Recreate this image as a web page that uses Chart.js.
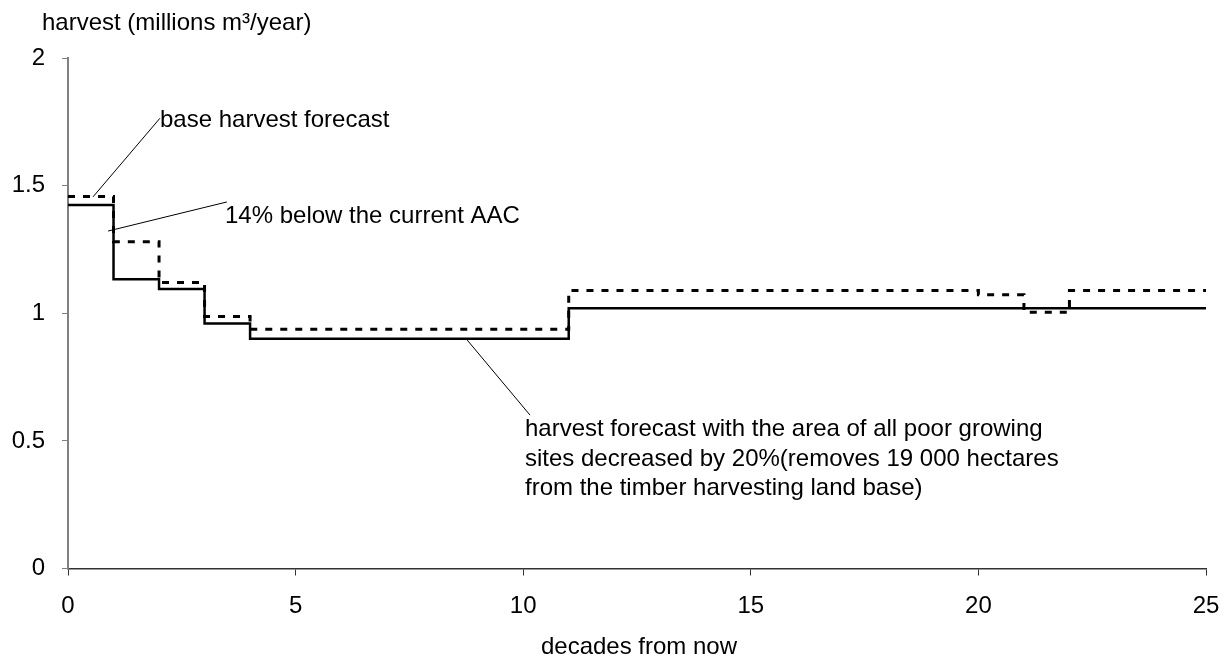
<!DOCTYPE html>
<html>
<head>
<meta charset="utf-8">
<script src="https://cdn.jsdelivr.net/npm/chart.js@4/dist/chart.umd.min.js"></script>
<style>
html,body{margin:0;padding:0;background:#fff;}
#wrap{width:1225px;height:658px;position:relative;}
</style>
</head>
<body>
<div id="wrap"><canvas id="c" width="1225" height="658"></canvas></div>
<script>
// decades 0..24, value holds over [d, d+1]
const decades = [0,1,2,3,4,5,6,7,8,9,10,11,12,13,14,15,16,17,18,19,20,21,22,23,24];
const reducedSites = [1.424,1.133,1.095,0.960,0.900,0.900,0.900,0.900,0.900,0.900,0.900,1.020,1.020,1.020,1.020,1.020,1.020,1.020,1.020,1.020,1.020,1.020,1.020,1.020,1.020];
const baseForecast = [1.457,1.280,1.120,0.987,0.937,0.937,0.937,0.937,0.937,0.937,0.937,1.089,1.089,1.089,1.089,1.089,1.089,1.089,1.089,1.089,1.072,1.004,1.089,1.089,1.089];
const xEnd = 25;
const xTicks = [0,5,10,15,20,25];
const yTicks = [0,0.5,1,1.5,2];
const yTitle = "harvest (millions m³/year)";
const xTitle = "decades from now";
const labelBase = "base harvest forecast";
const label14 = "14% below the current AAC";
const labelReduced = ["harvest forecast with the area of all poor growing",
  "sites decreased by 20%(removes 19 000 hectares",
  "from the timber harvesting land base)"];

function steps(vals){
  const pts = decades.map((d,i)=>({x:d,y:vals[i]}));
  pts.push({x:xEnd,y:vals[vals.length-1]});
  return pts;
}

const FONT = "'Liberation Sans', Arial, sans-serif";

const annot = {
  id:'annot',
  afterDraw(chart){
    const ctx = chart.ctx, xs = chart.scales.x, ys = chart.scales.y;
    const P = (x,y)=>[xs.getPixelForValue(x), ys.getPixelForValue(y)];
    ctx.save();
    ctx.strokeStyle = '#000'; ctx.lineWidth = 1;
    const lines = [[[2.02,1.764],[0.55,1.456]],[[3.49,1.436],[0.88,1.322]],[[8.77,0.895],[10.15,0.601]]];
    lines.forEach(l=>{
      const a=P(...l[0]), b=P(...l[1]);
      ctx.beginPath(); ctx.moveTo(a[0],a[1]); ctx.lineTo(b[0],b[1]); ctx.stroke();
    });
    ctx.fillStyle = '#000';
    ctx.font = "24px " + FONT;
    ctx.textBaseline = 'alphabetic';
    ctx.textAlign = 'left';
    ctx.fillText(labelBase, 160, 127);
    ctx.fillText(label14, 225, 223);
    labelReduced.forEach((t,i)=>ctx.fillText(t, 525, 436 + i*29.5));
    ctx.fillText(yTitle, 42, 30);
    ctx.textAlign = 'center';
    ctx.fillText(xTitle, 639, 654);
    ctx.restore();
  }
};

new Chart(document.getElementById('c'), {
  type:'line',
  data:{
    datasets:[
      {label:'reduced', data:steps(reducedSites), borderColor:'#000', borderWidth:2.5, stepped:true, pointRadius:0, fill:false, order:1},
      {label:'base', data:steps(baseForecast), borderColor:'#000', borderWidth:3, borderDash:[7,8], stepped:true, pointRadius:0, fill:false, order:0}
    ]
  },
  options:{
    responsive:false, animation:false,
    layout:{padding:{top:58,right:19,bottom:0,left:0}},
    plugins:{legend:{display:false}, tooltip:{enabled:false}},
    scales:{
      x:{type:'linear', min:0, max:xEnd,
        afterFit(s){ s.height = 89.5; s.paddingLeft = 0; s.paddingRight = 0; },
        afterBuildTicks(s){ s.ticks = xTicks.map(v=>({value:v})); },
        grid:{drawOnChartArea:false, drawTicks:true, tickLength:7, color:'#333', lineWidth:1},
        border:{display:true, color:'#333', width:1.5},
        ticks:{color:'#000', font:{family:FONT, size:24}, padding:16, maxRotation:0}
      },
      y:{type:'linear', min:0, max:2,
        afterFit(s){ s.width = 68; s.paddingTop = 0; s.paddingBottom = 0; },
        afterBuildTicks(s){ s.ticks = yTicks.map(v=>({value:v})); },
        grid:{drawOnChartArea:false, drawTicks:true, tickLength:6, color:'#808080', lineWidth:1},
        border:{display:true, color:'#808080', width:2},
        ticks:{color:'#000', font:{family:FONT, size:24}, padding:17, callback:v=>String(v)}
      }
    }
  },
  plugins:[annot]
});
</script>
</body>
</html>
